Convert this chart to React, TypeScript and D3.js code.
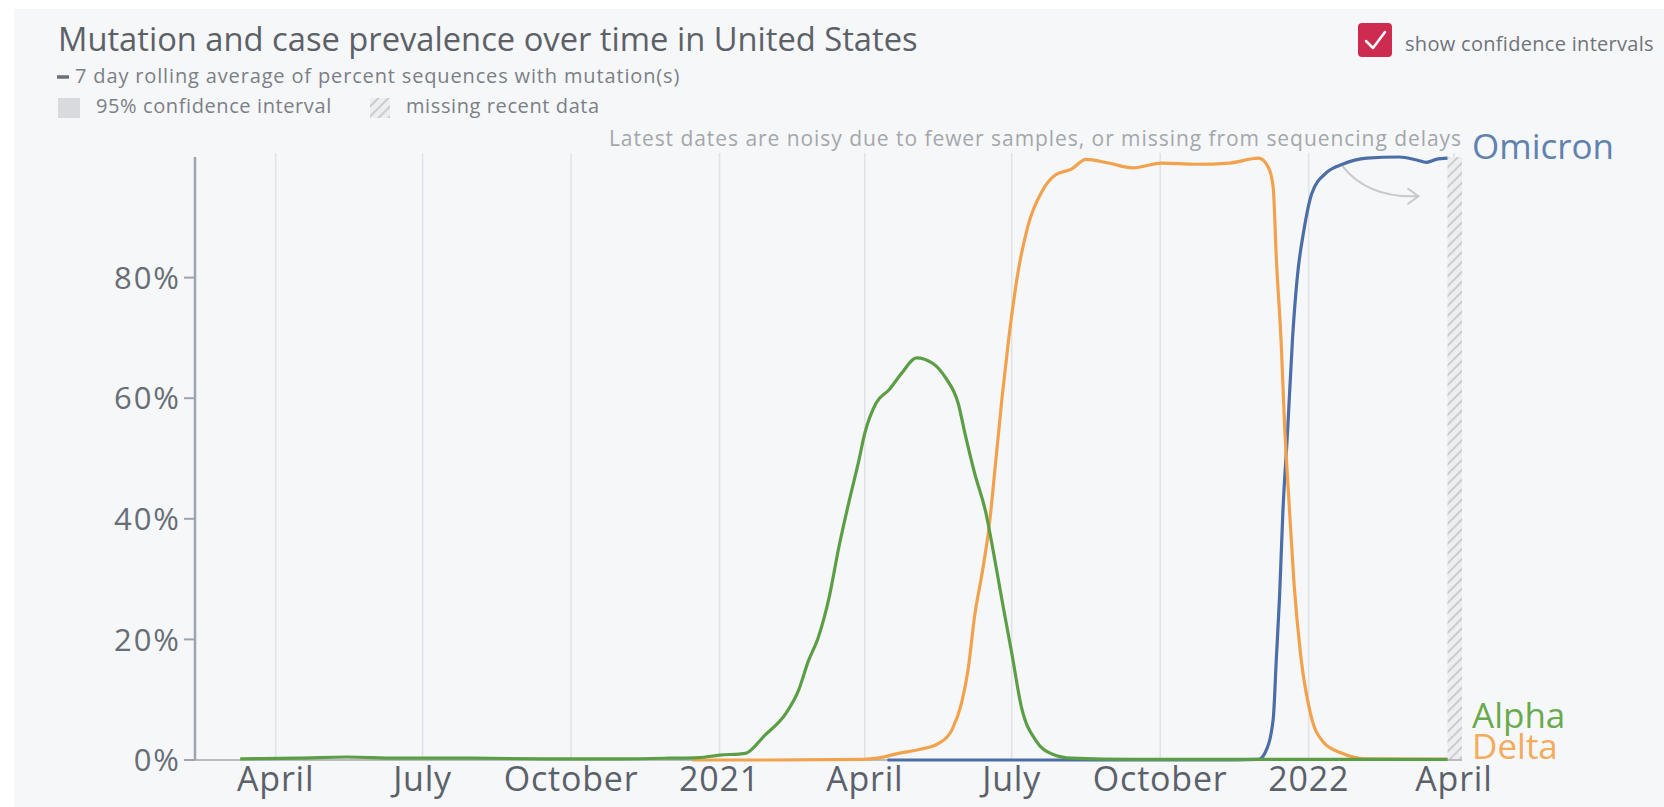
import React from "react";
import * as d3 from "d3";

const alphaData: [string, number][] = [
  ["2020-03-10", 0.2], ["2020-04-15", 0.3], ["2020-05-15", 0.5], ["2020-06-15", 0.3],
  ["2020-08-01", 0.3], ["2020-09-15", 0.2], ["2020-11-01", 0.2], ["2020-12-01", 0.3],
  ["2020-12-19", 0.4], ["2021-01-01", 0.8], ["2021-01-17", 1.1], ["2021-01-29", 4.1],
  ["2021-02-11", 7.7], ["2021-02-19", 11.6], ["2021-02-25", 16.4], ["2021-03-03", 20.2],
  ["2021-03-10", 27.1], ["2021-03-16", 35.4], ["2021-03-22", 42.6], ["2021-03-28", 49.3],
  ["2021-04-01", 54.2], ["2021-04-08", 59.2], ["2021-04-16", 61.4], ["2021-04-24", 64.2],
  ["2021-05-03", 66.7], ["2021-05-13", 65.8], ["2021-05-21", 63.4], ["2021-05-29", 59.0],
  ["2021-06-02", 54.2], ["2021-06-08", 47.6], ["2021-06-15", 41.0], ["2021-06-19", 35.5],
  ["2021-06-25", 26.5], ["2021-07-01", 17.8], ["2021-07-07", 8.8], ["2021-07-16", 3.2],
  ["2021-07-26", 1.0], ["2021-08-07", 0.3], ["2021-09-15", 0.1], ["2021-12-01", 0.1],
  ["2022-02-01", 0.1], ["2022-03-28", 0.1],
];

const deltaData: [string, number][] = [
  ["2020-12-15", 0], ["2021-02-01", 0], ["2021-03-31", 0.1], ["2021-04-09", 0.3],
  ["2021-04-22", 1.1], ["2021-05-04", 1.7], ["2021-05-17", 2.8], ["2021-05-25", 5.0],
  ["2021-05-31", 9.5], ["2021-06-04", 15.0], ["2021-06-08", 23.8], ["2021-06-13", 31.5],
  ["2021-06-17", 38.7], ["2021-06-21", 49.2], ["2021-06-25", 60.0], ["2021-06-29", 69.5],
  ["2021-07-05", 81.0], ["2021-07-11", 88.5], ["2021-07-20", 94.4], ["2021-07-28", 97.0],
  ["2021-08-07", 98.0], ["2021-08-16", 99.6], ["2021-08-30", 99.0], ["2021-09-14", 98.2],
  ["2021-10-02", 99.0], ["2021-10-23", 98.8], ["2021-11-13", 99.0], ["2021-12-01", 99.8],
  ["2021-12-07", 98.3], ["2021-12-10", 95.0], ["2021-12-12", 83.0], ["2021-12-15", 69.0],
  ["2021-12-17", 56.0], ["2021-12-20", 42.0], ["2021-12-23", 29.0], ["2021-12-27", 17.5],
  ["2022-01-02", 7.8], ["2022-01-10", 3.0], ["2022-01-21", 1.2], ["2022-02-05", 0.2],
  ["2022-03-28", 0.1],
];

const omicronData: [string, number][] = [
  ["2021-04-15", 0], ["2021-08-01", 0], ["2021-11-01", 0], ["2021-12-01", 0.1],
  ["2021-12-05", 1.2], ["2021-12-10", 6.7], ["2021-12-12", 17.0], ["2021-12-14", 27.3],
  ["2021-12-16", 41.0], ["2021-12-19", 54.8], ["2021-12-22", 69.9], ["2021-12-25", 80.2],
  ["2021-12-29", 87.8], ["2022-01-03", 94.0], ["2022-01-12", 97.4], ["2022-01-22", 98.8],
  ["2022-02-06", 99.8], ["2022-02-26", 100], ["2022-03-09", 99.5], ["2022-03-15", 99.1],
  ["2022-03-21", 99.6], ["2022-03-28", 99.8],
];

const seriesNames = ["Omicron", "Delta", "Alpha"];
const seriesColors = ["#4b6ea7", "#f2a24c", "#5c9e45"];
const labelColors = ["#5f82b0", "#f3ab5c", "#6aaa4e"];
const yTickValues = [0, 20, 40, 60, 80];
const xDomain = ["2020-02-11", "2022-04-06"];

const W = 1664;
const H = 807;
const M = { left: 195, right: 1462, top: 157, bottom: 760 };
const FONT = "'Open Sans', sans-serif";

export default function App() {
  const parse = d3.timeParse("%Y-%m-%d");
  const x = d3.scaleTime()
    .domain(xDomain.map((d) => parse(d) as Date))
    .range([M.left, M.right]);
  const y = d3.scaleLinear().domain([0, 100]).range([M.bottom, M.top]);

  const all = [omicronData, deltaData, alphaData];
  const line = d3.line<[string, number]>()
    .x((d) => x(parse(d[0]) as Date))
    .y((d) => y(d[1]))
    .curve(d3.curveMonotoneX);

  const xTicks = x.ticks(d3.timeMonth.every(3) as any);
  const fmt = (d: Date) => (d.getMonth() === 0 ? d3.timeFormat("%Y")(d) : d3.timeFormat("%B")(d));

  const lastDate = parse(alphaData[alphaData.length - 1][0]) as Date;
  const hatchX0 = x(lastDate);
  const hatchX1 = M.right;

  const lastVals = all.map((s) => s[s.length - 1][1]);
  const labelY = [y(lastVals[0]) + 1, y(lastVals[1]), y(lastVals[2]) - 31];

  const arrowStart: [number, number] = [x(parse("2022-01-22") as Date), y(98.5)];
  const arrowEnd: [number, number] = [x(parse("2022-03-10") as Date), y(93.5)];

  return (
    <svg width={W} height={H} style={{ display: "block", position: "absolute", left: 0, top: 0 }}>
      <defs>
        <pattern id="hatch" patternUnits="userSpaceOnUse" width="7" height="7" patternTransform="rotate(45)">
          <rect width="7" height="7" fill="#eceef0" />
          <line x1="0" y1="0" x2="0" y2="7" stroke="#c9ccd0" strokeWidth="4" />
        </pattern>
      </defs>
      <rect x={0} y={0} width={W} height={H} fill="#ffffff" />
      <rect x={14} y={9} width={W - 14} height={H - 9} fill="#f6f7f9" />

      {/* Title and legend */}
      <text x={58} y={51} fontFamily={FONT} fontSize={32.7} fill="#5c6168">
        Mutation and case prevalence over time in United States
      </text>
      <line x1={57} x2={69} y1={77} y2={77} stroke="#6c7177" strokeWidth={3.5} />
      <text x={75} y={83} fontFamily={FONT} fontSize={20} letterSpacing={0.85} fill="#7b8086">
        7 day rolling average of percent sequences with mutation(s)
      </text>
      <rect x={58} y={98} width={22} height={20} fill="#d8dadd" />
      <text x={96} y={113} fontFamily={FONT} fontSize={20} letterSpacing={0.6} fill="#7b8086">
        95% confidence interval
      </text>
      <rect x={370} y={98} width={20} height={20} fill="url(#hatch)" />
      <text x={406} y={113} fontFamily={FONT} fontSize={20} letterSpacing={0.6} fill="#7b8086">
        missing recent data
      </text>

      {/* checkbox */}
      <rect x={1358} y={23} width={34} height={34} rx={4} fill="#cd2b50" />
      <polyline points="1366,41 1373,48 1385,32" fill="none" stroke="#ffffff" strokeWidth={2.5} strokeLinecap="round" strokeLinejoin="round" />
      <text x={1405} y={51} fontFamily={FONT} fontSize={20} letterSpacing={0.3} fill="#6f747a">
        show confidence intervals
      </text>

      {/* gridlines */}
      {xTicks.map((t, i) => (
        <line key={"g" + i} x1={x(t)} x2={x(t)} y1={153} y2={M.bottom} stroke="#dfe2e6" strokeWidth={1.5} />
      ))}

      {/* hatched missing data */}
      <rect x={hatchX0} y={M.top} width={hatchX1 - hatchX0} height={M.bottom - M.top} fill="url(#hatch)" />

      {/* annotation */}
      <text x={M.right} y={146} textAnchor="end" fontFamily={FONT} fontSize={21} letterSpacing={0.95} fill="#a3a7ab">
        Latest dates are noisy due to fewer samples, or missing from sequencing delays
      </text>
      <path
        d={`M${arrowStart[0]},${arrowStart[1]} Q${arrowStart[0] + 25},${arrowEnd[1] + 2} ${arrowEnd[0]},${arrowEnd[1]}`}
        fill="none" stroke="#c6c9cd" strokeWidth={2}
      />
      <polyline
        points={`${arrowEnd[0] - 11},${arrowEnd[1] - 8} ${arrowEnd[0]},${arrowEnd[1]} ${arrowEnd[0] - 11},${arrowEnd[1] + 8}`}
        fill="none" stroke="#c6c9cd" strokeWidth={2}
      />

      {/* axes */}
      <line x1={M.left} x2={M.right} y1={M.bottom} y2={M.bottom} stroke="#b7bcc2" strokeWidth={2} />
      <line x1={M.left} x2={M.left} y1={M.top} y2={M.bottom} stroke="#9ea4ab" strokeWidth={2.5} />
      {yTickValues.map((v) => (
        <g key={"y" + v}>
          <line x1={M.left - 11} x2={M.left} y1={y(v)} y2={y(v)} stroke="#9ea4ab" strokeWidth={2} />
          <text x={M.left - 14} y={y(v)} dy="0.36em" textAnchor="end" fontFamily={FONT} fontSize={31} fill="#686e76" letterSpacing={2}>
            {v}%
          </text>
        </g>
      ))}
      {xTicks.map((t, i) => (
        <text key={"x" + i} x={x(t)} y={791} textAnchor="middle" fontFamily={FONT} fontSize={34} letterSpacing={0.8} fill="#5b616a">
          {fmt(t)}
        </text>
      ))}

      {/* lines */}
      {all.map((s, i) => (
        <path key={"l" + i} d={line(s) || ""} fill="none" stroke={seriesColors[i]} strokeWidth={3.2} strokeLinejoin="round" />
      ))}

      {/* series labels */}
      {seriesNames.map((n, i) => (
        <text key={"n" + i} x={M.right + 10} y={labelY[i]} fontFamily={FONT} fontSize={35} fill={labelColors[i]}>
          {n}
        </text>
      ))}
    </svg>
  );
}
